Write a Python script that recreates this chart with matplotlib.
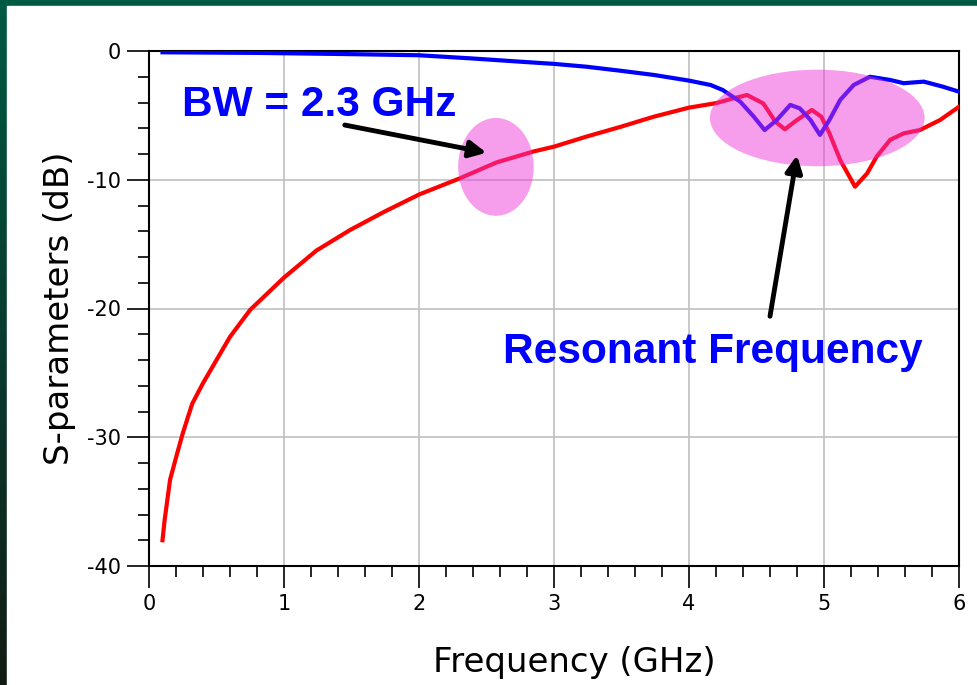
import numpy as np
import matplotlib
matplotlib.use("Agg")
import matplotlib.pyplot as plt
from matplotlib.patches import Ellipse, Rectangle

plt.rcParams['axes.unicode_minus'] = False

# данные (S11 - красная, S21 - синяя)
freq_s11 = [0.1, 0.115, 0.156, 0.205, 0.25, 0.32, 0.40, 0.50, 0.60,
            0.75, 1.0, 1.24, 1.49, 1.74, 2.0, 2.3, 2.575, 2.85, 3.0,
            3.24, 3.49, 3.74, 4.0, 4.2, 4.32, 4.43, 4.55, 4.64, 4.71, 4.80,
            4.91, 4.98, 5.04, 5.12, 5.23, 5.32, 5.39, 5.49, 5.59, 5.71, 5.86,
            6.0]
s11_db = [-38.0, -36.5, -33.3, -31.4, -29.7, -27.4, -25.8, -24.0,
          -22.2, -20.1, -17.6, -15.5, -13.9, -12.5, -11.15, -9.9,
          -8.65, -7.8, -7.43, -6.65, -5.9, -5.1, -4.4, -4.05, -3.7, -3.42,
          -4.07, -5.49, -6.08, -5.36, -4.58, -5.1, -6.39, -8.47, -10.54,
          -9.5, -8.2, -6.9, -6.4, -6.14, -5.36, -4.33]

freq_s21 = [0.1, 0.82, 1.47, 2.0, 2.38, 2.75, 3.0, 3.24, 3.49, 3.74, 4.0,
            4.16, 4.25, 4.38, 4.48, 4.56, 4.65, 4.75, 4.82, 4.90, 4.97, 5.04,
            5.12, 5.22, 5.34, 5.49, 5.59, 5.74, 5.88, 6.0]
s21_db = [-0.1, -0.15, -0.24, -0.33, -0.57, -0.83, -1.0, -1.22, -1.53,
          -1.86, -2.3, -2.64, -3.03, -3.94, -5.1, -6.14, -5.36, -4.19, -4.45,
          -5.36, -6.52, -5.36, -3.8, -2.64, -2.0, -2.25, -2.5, -2.38, -2.77,
          -3.16]

x_ticks = [0, 1, 2, 3, 4, 5, 6]
y_ticks = [-40, -30, -20, -10, 0]

fig = plt.figure(figsize=(9.77, 6.85), dpi=100)

# зелёная рамка с градиентом
bg = fig.add_axes([0, 0, 1, 1], zorder=-10)
grad = np.linspace(0, 1, 256).reshape(-1, 1)
top = np.array([0, 90, 68]) / 255
bot = np.array([18, 28, 22]) / 255
img = top * (1 - grad[..., None]) + bot * grad[..., None]
bg.imshow(img, aspect="auto", extent=[0, 1, 0, 1])
bg.add_patch(Rectangle((7 / 977, 0), 1, 679 / 685, color="white"))
bg.set_xlim(0, 1)
bg.set_ylim(0, 1)
bg.axis("off")

ax = fig.add_axes([149 / 977, 119 / 685, 810 / 977, 515 / 685])
ax.set_facecolor("white")

ax.plot(freq_s11, s11_db, color="#ff0000", lw=3, zorder=3,
        solid_joinstyle="round")
ax.plot(freq_s21, s21_db, color="#0000ff", lw=3, zorder=3,
        solid_joinstyle="round")

# розовые эллипсы поверх кривых
ax.add_patch(Ellipse((2.57, -9.0), 0.56, 7.6, facecolor="#ee33d8",
                     alpha=0.48, edgecolor="none", zorder=4))
ax.add_patch(Ellipse((4.95, -5.2), 1.59, 7.5, facecolor="#ee33d8",
                     alpha=0.48, edgecolor="none", zorder=4))

ax.text(0.244, -4.2, "BW = 2.3 GHz", color="#0000ff", fontsize=30.5,
        fontweight="bold", family="Liberation Sans", va="center", zorder=6)
ax.text(2.62, -23.4, "Resonant Frequency", color="#0000ff", fontsize=30.5,
        fontweight="bold", family="Liberation Sans", va="center", zorder=6)

arrow = dict(arrowstyle="-|>", color="black", lw=3.5, mutation_scale=25,
             shrinkA=0, shrinkB=0)
ax.annotate("", xy=(2.50, -7.9), xytext=(1.45, -5.75), arrowprops=arrow,
            zorder=5)
ax.annotate("", xy=(4.80, -8.1), xytext=(4.60, -20.6), arrowprops=arrow,
            zorder=5)

ax.set_xlim(0, 6)
ax.set_ylim(-40, 0)
ax.set_xticks(x_ticks)
ax.set_yticks(y_ticks)
ax.set_xticks(np.arange(0, 6.01, 0.2), minor=True)
ax.set_yticks(np.arange(-40, 0.1, 2), minor=True)
ax.tick_params(which="major", direction="out", length=16, width=1.2,
               labelsize=15, colors="black", pad=4)
ax.tick_params(which="minor", direction="out", length=8, width=1.2)
ax.tick_params(top=False, right=False, which="both")
ax.grid(True, which="major", color="#c0c0c0", lw=1.2)
for s in ax.spines.values():
    s.set_linewidth(1.5)

ax.set_xlabel("Frequency (GHz)", fontsize=24.5)
ax.xaxis.set_label_coords(0.525, -0.155)
ax.set_ylabel("S-parameters (dB)", fontsize=24.5, labelpad=8)

fig.savefig("out.png", dpi=100)
